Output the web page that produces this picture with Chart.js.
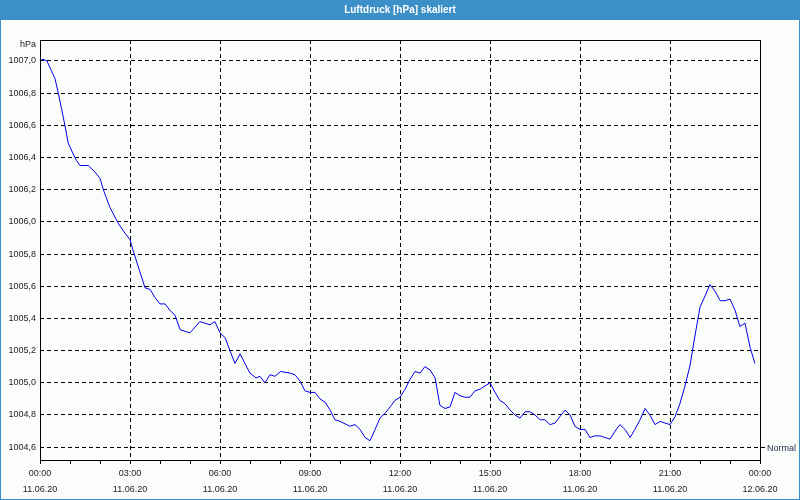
<!DOCTYPE html>
<html>
<head>
<meta charset="utf-8">
<script src="https://cdn.jsdelivr.net/npm/chart.js@4/dist/chart.umd.min.js"></script>
<style>
  html, body { margin: 0; padding: 0; background: #fbfdfb; }
  canvas { display: block; }
</style>
</head>
<body>
<canvas id="chart" width="800" height="500"></canvas>
<script>
// Luftdruck 11.06.20 00:00 - 12.06.20 00:00, x in hours since midnight
const hours = [
  0.00, 0.10, 0.23, 0.50, 0.61, 0.72, 0.83, 0.94, 1.06, 1.22, 1.33, 1.61, 1.83, 2.00,
  2.11, 2.33, 2.61, 2.83, 3.00, 3.09, 3.33, 3.50, 3.67, 3.83, 4.00,
  4.17, 4.33, 4.50, 4.67, 5.00, 5.33, 5.67, 5.83, 6.00, 6.17, 6.33, 6.50, 6.67, 6.83,
  7.00, 7.20, 7.33, 7.50, 7.67, 7.83, 8.02, 8.33, 8.50, 8.67, 8.83, 9.00, 9.17, 9.33,
  9.50, 9.67, 9.83, 10.00, 10.33, 10.50, 10.67, 10.83, 11.00, 11.17, 11.33, 11.50,
  11.67, 11.83, 12.00, 12.17, 12.33, 12.50, 12.67, 12.83, 13.00, 13.17, 13.33, 13.50,
  13.67, 13.83, 14.00, 14.17, 14.33, 14.50, 14.67, 14.83, 15.00, 15.17, 15.33, 15.50,
  15.67, 15.83, 16.00, 16.17, 16.33, 16.50, 16.67, 16.83, 17.00, 17.17, 17.33, 17.50,
  17.67, 17.83, 18.00, 18.17, 18.33, 18.50, 18.67, 18.83, 19.00, 19.17, 19.33, 19.50,
  19.67, 19.83, 20.00, 20.17, 20.33, 20.50, 20.67, 20.83, 21.00, 21.17, 21.33, 21.50,
  21.67, 21.83, 22.00, 22.17, 22.33, 22.50, 22.67, 22.83, 23.00, 23.17, 23.33, 23.50,
  23.67, 23.83
];
const pressure = [
  1007.00, 1007.01, 1007.00, 1006.89, 1006.80, 1006.70, 1006.60, 1006.49, 1006.44, 1006.38, 1006.35, 1006.35, 1006.31, 1006.27,
  1006.20, 1006.09, 1005.99, 1005.93, 1005.89, 1005.83, 1005.69, 1005.59, 1005.58, 1005.53, 1005.49,
  1005.49, 1005.45, 1005.42, 1005.33, 1005.31, 1005.38, 1005.36, 1005.38, 1005.31, 1005.28, 1005.20, 1005.12, 1005.18, 1005.12,
  1005.06, 1005.03, 1005.04, 1005.00, 1005.05, 1005.04, 1005.07, 1005.06, 1005.05, 1005.01, 1004.95, 1004.94, 1004.94, 1004.90,
  1004.88, 1004.83, 1004.77, 1004.76, 1004.73, 1004.74, 1004.71, 1004.66, 1004.64, 1004.71, 1004.78, 1004.81,
  1004.85, 1004.89, 1004.91, 1004.96, 1005.02, 1005.07, 1005.06, 1005.10, 1005.08, 1005.03, 1004.86, 1004.84,
  1004.85, 1004.94, 1004.92, 1004.91, 1004.91, 1004.95, 1004.96, 1004.98, 1005.00, 1004.94, 1004.89, 1004.87,
  1004.83, 1004.80, 1004.78, 1004.82, 1004.82, 1004.80, 1004.77, 1004.77, 1004.74, 1004.75, 1004.79, 1004.83,
  1004.80, 1004.73, 1004.71, 1004.71, 1004.66, 1004.67, 1004.67, 1004.66, 1004.65, 1004.70, 1004.74, 1004.71,
  1004.66, 1004.71, 1004.77, 1004.84, 1004.80, 1004.74, 1004.76, 1004.75, 1004.74, 1004.79, 1004.87, 1004.98,
  1005.11, 1005.29, 1005.47, 1005.54, 1005.61, 1005.57, 1005.51, 1005.51, 1005.52, 1005.45, 1005.35, 1005.37,
  1005.22, 1005.12
];
const dateLabels = ['11.06.20', '12.06.20'];
const titleText = 'Luftdruck [hPa] skaliert';
const unitLabel = 'hPa';
const normalLabel = 'Normal';
const normalValue = 1004.6;

const FONT = '"Liberation Sans", Arial, sans-serif';
const BLUE = '#3c90c8';

const decor = {
  id: 'decor',
  beforeDraw(chart) {
    const ctx = chart.ctx;
    ctx.save();
    ctx.fillStyle = '#fbfdfb';
    ctx.fillRect(0, 0, chart.width, chart.height);
    ctx.fillStyle = BLUE;
    ctx.fillRect(0, 0, chart.width, 20);
    ctx.strokeStyle = BLUE;
    ctx.lineWidth = 1;
    ctx.strokeRect(0.5, 0.5, chart.width - 1, chart.height - 1);
    ctx.fillStyle = '#ffffff';
    ctx.font = 'bold 10px ' + FONT;
    ctx.textAlign = 'center';
    ctx.textBaseline = 'middle';
    ctx.fillText(titleText, chart.width / 2, 10);
    ctx.restore();
  },
  afterDraw(chart) {
    const ctx = chart.ctx;
    const a = chart.chartArea;
    ctx.save();
    ctx.strokeStyle = '#000';
    ctx.lineWidth = 1;
    ctx.strokeRect(a.left + 0.5, a.top + 0.5, a.right - a.left, a.bottom - a.top);
    ctx.fillStyle = '#222';
    ctx.font = '9px ' + FONT;
    ctx.textBaseline = 'middle';
    ctx.textAlign = 'right';
    ctx.fillText(unitLabel, a.left - 4, a.top + 5);
    const ny = Math.round(chart.scales.y.getPixelForValue(normalValue)) + 0.5;
    ctx.beginPath();
    ctx.moveTo(a.right + 1, ny);
    ctx.lineTo(a.right + 5, ny);
    ctx.stroke();
    ctx.textAlign = 'left';
    ctx.fillStyle = '#1c2c48';
    ctx.fillText(normalLabel, a.right + 7, ny + 1);
    ctx.restore();
  }
};

new Chart(document.getElementById('chart'), {
  type: 'line',
  data: {
    datasets: [{
      data: hours.map((h, i) => ({ x: h, y: pressure[i] })),
      borderColor: '#0000ee',
      borderWidth: 1,
      pointRadius: 0,
      tension: 0,
      fill: false
    }]
  },
  options: {
    responsive: false,
    animation: false,
    layout: { padding: { left: 0, top: 40, right: 40, bottom: 0 } },
    plugins: { legend: { display: false }, tooltip: { enabled: false } },
    scales: {
      x: {
        type: 'linear',
        min: 0,
        max: 24,
        afterFit: s => { s.height = 40; },
        border: { display: false, dash: [4, 3] },
        grid: {
          color: c => (c.tick && c.tick.value % 3 === 0) ? '#000' : 'rgba(0,0,0,0)',
          lineWidth: 1,
          tickLength: 4,
          tickColor: '#000'
        },
        ticks: {
          stepSize: 1,
          autoSkip: false,
          maxRotation: 0,
          padding: 2,
          color: '#222',
          font: { family: FONT, size: 9, lineHeight: '16px' },
          callback: v => {
            if (v % 3 !== 0) return '';
            const hh = String(v % 24).padStart(2, '0') + ':00';
            return [hh, v >= 24 ? dateLabels[1] : dateLabels[0]];
          }
        }
      },
      y: {
        min: 1004.52,
        max: 1007.13,
        afterFit: s => { s.width = 40; },
        border: { display: false, dash: [4, 3] },
        grid: { color: '#000', lineWidth: 1, drawTicks: false },
        ticks: {
          stepSize: 0.2,
          includeBounds: false,
          padding: 4,
          color: '#222',
          font: { family: FONT, size: 9 },
          callback: v => v.toFixed(1).replace('.', ',')
        }
      }
    }
  },
  plugins: [decor]
});
</script>
</body>
</html>
